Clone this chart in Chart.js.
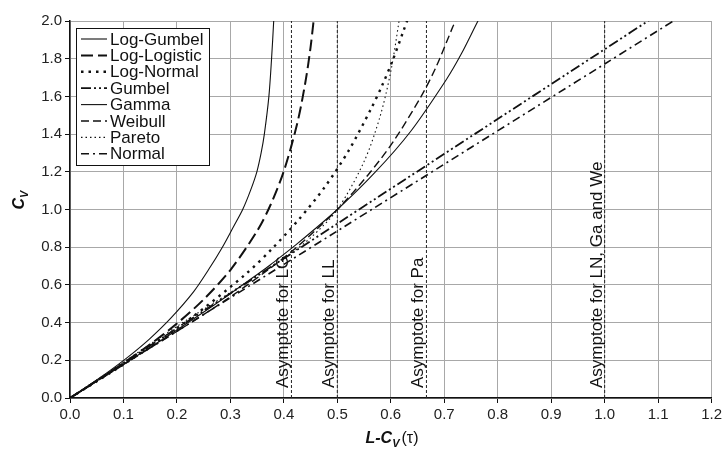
<!DOCTYPE html>
<html>
<head>
<meta charset="utf-8">
<script src="https://cdn.jsdelivr.net/npm/chart.js@4.4.0/dist/chart.umd.min.js"></script>
<style>
  body { margin: 0; background: #fff; }
  #wrap { width: 725px; height: 451px; }
</style>
</head>
<body>
<div id="wrap"><canvas id="myChart"></canvas></div>
<script>
// L-CV (tau) against CV for each distribution
let lgTau = [0, 0.035, 0.072, 0.11, 0.149, 0.189, 0.231, 0.259, 0.285, 0.306, 0.323, 0.3375, 0.3495, 0.3575, 0.3635, 0.372, 0.377, 0.381, 0.3845];
let lgCv = [0, 0.067, 0.14, 0.221, 0.314, 0.425, 0.563, 0.68, 0.8, 0.91, 1.0, 1.1, 1.2, 1.3, 1.4, 1.6, 1.8, 2.0, 2.2];

let llTau = [0, 0.05, 0.1, 0.15, 0.2, 0.25, 0.3, 0.35, 0.375, 0.4, 0.425, 0.44, 0.45, 0.46];
let llCv = [0, 0.091, 0.185, 0.285, 0.395, 0.523, 0.679, 0.886, 1.024, 1.204, 1.456, 1.671, 1.862, 2.116];

let lnTau = [0, 0.113, 0.223, 0.329, 0.379, 0.428, 0.476, 0.521, 0.563, 0.584, 0.604, 0.623, 0.635];
let lnCv = [0, 0.202, 0.417, 0.658, 0.795, 0.947, 1.117, 1.311, 1.534, 1.659, 1.795, 1.942, 2.036];

let guTau = [0, 0.5, 1.0, 1.1];
let guCv = [0, 0.925, 1.85, 2.035];

let gaTau = [0, 0.056, 0.112, 0.185, 0.273, 0.356, 0.375, 0.424, 0.5, 0.57, 0.637, 0.704, 0.732, 0.763, 0.78];
let gaCv = [0, 0.1, 0.2, 0.333, 0.5, 0.667, 0.707, 0.816, 1.0, 1.195, 1.414, 1.69, 1.826, 2.0, 2.09];

let weTau = [0, 0.067, 0.129, 0.206, 0.293, 0.37, 0.426, 0.5, 0.557, 0.603, 0.656, 0.685, 0.716, 0.723];
let weCv = [0, 0.12, 0.229, 0.364, 0.523, 0.679, 0.805, 1.0, 1.182, 1.353, 1.596, 1.758, 1.969, 2.013];

let paTau = [0, 0.1, 0.2, 0.3, 0.4, 0.45, 0.5, 0.55, 0.58, 0.6, 0.615, 0.62];
let paCv = [0, 0.19, 0.38, 0.56, 0.74, 0.85, 1.0, 1.254, 1.494, 1.732, 1.992, 2.104];

let noTau = [0, 0.5, 1.0, 1.15];
let noCv = [0, 0.886, 1.772, 2.038];

let asymptoteX = [0.4142, 0.5, 0.6667, 1.0];
let asymptoteLabels = ["Asymptote for LG", "Asymptote for LL", "Asymptote for Pa", "Asymptote for LN, Ga and We"];

let xTicks = [0, 0.1, 0.2, 0.3, 0.4, 0.5, 0.6, 0.7, 0.8, 0.9, 1.0, 1.1, 1.2];
let yTicks = [0, 0.2, 0.4, 0.6, 0.8, 1.0, 1.2, 1.4, 1.6, 1.8, 2.0];

function pts(xs, ys) {
  return xs.map((x, i) => ({ x: x, y: ys[i] }));
}

function curve(label, xs, ys, width, dash) {
  return {
    label: label,
    data: pts(xs, ys),
    showLine: true,
    borderColor: "#111",
    backgroundColor: "#111",
    borderWidth: width,
    borderDash: dash,
    pointRadius: 0,
    tension: 0.3,
    inLegend: true,
  };
}

let datasets = [
  curve("Log-Gumbel", lgTau, lgCv, 1.1, []),
  curve("Log-Logistic", llTau, llCv, 2, [12, 5]),
  curve("Log-Normal", lnTau, lnCv, 2.4, [2.5, 5]),
  curve("Gumbel", guTau, guCv, 1.8, [10, 3, 2, 3, 2, 3]),
  curve("Gamma", gaTau, gaCv, 1.1, []),
  curve("Weibull", weTau, weCv, 1.4, [8, 4]),
  curve("Pareto", paTau, paCv, 1.1, [1.5, 3]),
  curve("Normal", noTau, noCv, 1.6, [8, 4, 2, 4]),
];

// vertical asymptotes
asymptoteX.forEach((x) => {
  datasets.push({
    label: "",
    data: [{ x: x, y: 0 }, { x: x, y: 2 }],
    showLine: true,
    borderColor: "#222",
    borderWidth: 1,
    borderDash: [3, 2],
    pointRadius: 0,
    inLegend: false,
  });
});

const decor = {
  id: "decor",
  afterDraw(chart) {
    const ctx = chart.ctx;
    const xs = chart.scales.x;
    const ys = chart.scales.y;
    ctx.save();

    // asymptote labels
    ctx.fillStyle = "#111";
    ctx.font = "17px 'Liberation Sans', Arial, sans-serif";
    ctx.textAlign = "left";
    ctx.textBaseline = "alphabetic";
    asymptoteX.forEach((x, i) => {
      const px = xs.getPixelForValue(x);
      ctx.save();
      ctx.translate(px - 3, ys.getPixelForValue(0) - 10);
      ctx.rotate(-Math.PI / 2);
      ctx.fillText(asymptoteLabels[i], 0, 0);
      ctx.restore();
    });

    // legend box
    const bx = 76, by = 28, bw = 133, bh = 137;
    ctx.fillStyle = "#fff";
    ctx.fillRect(bx, by, bw, bh);
    ctx.strokeStyle = "#111";
    ctx.lineWidth = 1;
    ctx.setLineDash([]);
    ctx.strokeRect(bx + 0.5, by + 0.5, bw, bh);
    ctx.font = "17px 'Liberation Sans', Arial, sans-serif";
    ctx.textBaseline = "middle";
    chart.data.datasets.filter((d) => d.inLegend).forEach((d, i) => {
      const cy = by + 11 + i * 16.4;
      ctx.strokeStyle = d.borderColor;
      ctx.lineWidth = d.borderWidth;
      ctx.setLineDash(d.borderDash);
      ctx.beginPath();
      ctx.moveTo(bx + 5, cy);
      ctx.lineTo(bx + 31, cy);
      ctx.stroke();
      ctx.setLineDash([]);
      ctx.fillStyle = "#111";
      ctx.fillText(d.label, bx + 34, cy + 1);
    });

    // x axis title: L-C_V(tau)
    ctx.textBaseline = "alphabetic";
    ctx.fillStyle = "#111";
    const big = "bold italic 16px 'Liberation Sans', Arial, sans-serif";
    const sub = "bold italic 11px 'Liberation Sans', Arial, sans-serif";
    const reg = "16px 'Liberation Sans', Arial, sans-serif";
    ctx.font = big;
    let w1 = ctx.measureText("L-C").width;
    ctx.font = sub;
    let w2 = ctx.measureText("V").width + 2;
    ctx.font = reg;
    let w3 = ctx.measureText("(\u03c4)").width;
    let tx = 392 - (w1 + w2 + w3) / 2;
    const tb = 443;
    ctx.font = big;
    ctx.fillText("L-C", tx, tb);
    ctx.font = sub;
    ctx.fillText("V", tx + w1, tb + 4);
    ctx.font = reg;
    ctx.fillText("(\u03c4)", tx + w1 + w2, tb);

    // y axis title: C_V
    ctx.save();
    ctx.translate(24, 200);
    ctx.rotate(-Math.PI / 2);
    ctx.font = big;
    let c1 = ctx.measureText("C").width;
    ctx.font = sub;
    let c2 = ctx.measureText("V").width;
    let sx = -(c1 + c2) / 2;
    ctx.font = big;
    ctx.fillText("C", sx, 0);
    ctx.font = sub;
    ctx.fillText("V", sx + c1, 4);
    ctx.restore();

    ctx.restore();
  },
};

const tickFont = { family: "'Liberation Sans', Arial, sans-serif", size: 15 };

let ctx = document.getElementById("myChart").getContext("2d");
let myChart = new Chart(ctx, {
  type: "scatter",
  data: { datasets: datasets },
  options: {
    responsive: true,
    maintainAspectRatio: false,
    animation: false,
    layout: { padding: { top: 21, right: 11, bottom: 0, left: 0 } },
    plugins: { legend: { display: false }, tooltip: { enabled: false } },
    scales: {
      x: {
        type: "linear",
        min: 0,
        max: 1.2,
        afterBuildTicks: (s) => { s.ticks = xTicks.map((v) => ({ value: v })); },
        afterFit: (s) => { s.height = 53; },
        ticks: { callback: (v) => Number(v).toFixed(1), font: tickFont, color: "#222", padding: 3, maxRotation: 0 },
        grid: { color: "#a8a8a8", lineWidth: 1, tickColor: "#111", tickLength: 5 },
        border: { color: "#111", width: 1.5 },
      },
      y: {
        type: "linear",
        min: 0,
        max: 2,
        afterBuildTicks: (s) => { s.ticks = yTicks.map((v) => ({ value: v })); },
        afterFit: (s) => { s.width = 70; },
        ticks: { callback: (v) => Number(v).toFixed(1), font: tickFont, color: "#222", padding: 3 },
        grid: { color: "#a8a8a8", lineWidth: 1, tickColor: "#111", tickLength: 5 },
        border: { color: "#111", width: 1.5 },
      },
    },
  },
  plugins: [decor],
});
</script>
</body>
</html>
